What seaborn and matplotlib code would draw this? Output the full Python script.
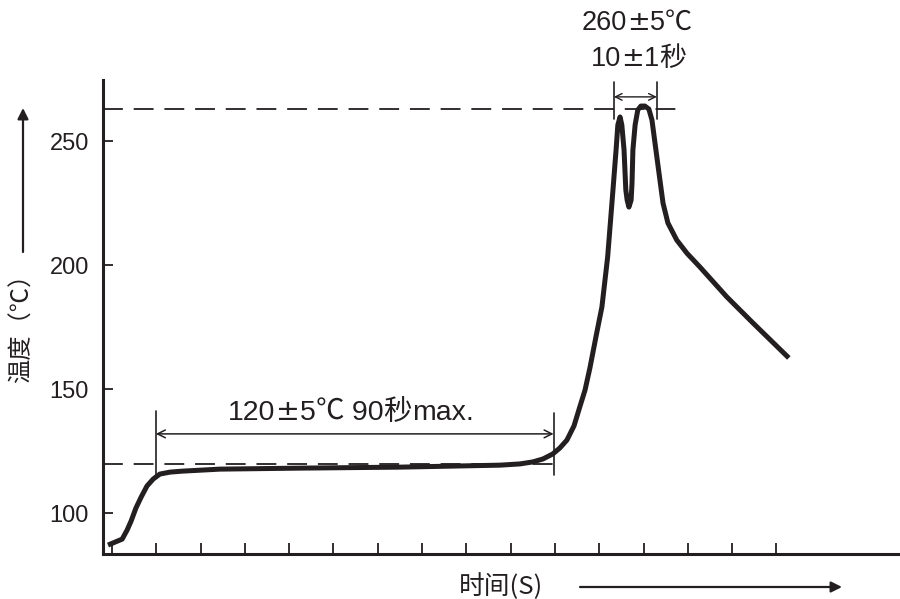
import pandas as pd
import seaborn as sns
import matplotlib.pyplot as plt
from matplotlib.offsetbox import TextArea, HPacker, AnnotationBbox

# reflow profile (time in tick units, temperature in degC)
time_s = [-0.9, 0.7, 2.3, 3.4, 4.3, 5.4, 6.6, 7.9, 9.3, 10.8, 13.1, 16.0, 24.4, 42.4,
          65.0, 76.3, 87.6, 92.1, 95.0, 97.3, 99.5, 101.1, 102.7, 104.3, 105.6, 106.8,
          107.9, 109.3, 110.6, 111.9, 113.1, 113.8, 114.2, 114.7, 115.1, 115.6, 116.0,
          116.3, 116.7, 117.2, 117.4, 117.6, 118.1, 118.7, 119.4, 120.3, 121.2, 121.9,
          122.5, 123.2, 123.7, 124.4, 125.5, 127.5, 129.8, 132.7, 138.8, 144.7, 152.8]
temp_c = [87.2, 88.4, 89.6, 93.2, 96.8, 102.1, 106.6, 111.0, 113.8, 115.8, 116.6, 117.0,
          117.8, 118.2, 118.6, 119.0, 119.4, 119.9, 120.7, 121.9, 123.9, 126.3, 129.5,
          135.2, 142.8, 149.7, 158.6, 171.5, 183.1, 203.3, 230.3, 246.4, 256.5, 259.7,
          256.5, 246.4, 230.3, 226.2, 223.4, 226.2, 233.1, 246.4, 256.5, 262.5, 264.1,
          264.1, 262.9, 258.5, 250.4, 241.0, 234.3, 225.0, 217.0, 210.1, 204.8, 199.3,
          187.2, 176.7, 162.6]

y_ticks = [100, 150, 200, 250]
x_ticks = list(range(0, 151, 10))
preheat_temp = 120
peak_temp = 263
preheat_span = (9.9, 99.7)
peak_span = (113.3, 123.0)

LAT, SYM, CJK = "Liberation Sans", "DejaVu Sans", "Noto Sans CJK SC"
preheat_label = [("120", LAT), ("±", SYM), ("5", LAT), ("℃", CJK), (" 90", LAT),
                 ("秒", CJK), ("max.", LAT)]
peak_label_1 = [("260", LAT), ("±", SYM), ("5", LAT), ("℃", CJK)]
peak_label_2 = [("10", LAT), ("±", SYM), ("1", LAT), ("秒", CJK)]

df = pd.DataFrame({"t": time_s, "T": temp_c})

sns.set_style("ticks")
plt.rcParams["font.family"] = [LAT, CJK, SYM]

ink = "#231f20"


def mixed_label(ax, parts, xy, coords, size=19.5):
    # pieces in different fonts so the wide ± looks like the original
    boxes = [TextArea(s, textprops=dict(family=fam, fontsize=size, color=ink))
             for s, fam in parts]
    pack = HPacker(children=boxes, align="baseline", pad=0, sep=0)
    ab = AnnotationBbox(pack, xy, xycoords=coords, frameon=False, pad=0,
                        box_alignment=(0.5, 0.5), annotation_clip=False)
    ax.add_artist(ab)


fig = plt.figure(figsize=(9, 5.99), dpi=100)
ax = fig.add_axes([103 / 900, 1 - 554 / 599, 797 / 900, 474 / 599])

sns.lineplot(data=df, x="t", y="T", ax=ax, color=ink, linewidth=3.6, sort=False,
             solid_joinstyle="round", solid_capstyle="butt")

ax.set_xlim(-2.03, 177.9)
ax.set_ylim(83.6, 274.6)
ax.set_xticks(x_ticks)
ax.set_xticklabels([])
ax.set_yticks(y_ticks)
ax.tick_params(axis="both", direction="in", length=7, width=1.3, color=ink,
               labelsize=17, labelcolor=ink, pad=10)
ax.tick_params(axis="x", length=8)
for side in ["top", "right"]:
    ax.spines[side].set_visible(False)
for side in ["left", "bottom"]:
    ax.spines[side].set_linewidth(2.2)
    ax.spines[side].set_color(ink)
ax.set_xlabel("")
ax.set_ylabel("")

# dashed reference levels
ax.plot([-2.03, 99.7], [preheat_temp, preheat_temp], color=ink, lw=1.3, dashes=(11, 6))
ax.plot([-2.03, 129.3], [peak_temp, peak_temp], color=ink, lw=1.3, dashes=(11, 6))

# preheat span
for xv, (y0, y1) in zip(preheat_span, [(114.6, 141.2), (115.4, 140.4)]):
    ax.plot([xv, xv], [y0, y1], color=ink, lw=1.2)
ax.annotate("", xy=(preheat_span[0], 132), xytext=(preheat_span[1], 132),
            arrowprops=dict(arrowstyle="<->", color=ink, lw=1.1, shrinkA=0, shrinkB=0,
                            mutation_scale=14))
mixed_label(ax, preheat_label, (351, 599 - 412), "figure pixels", size=20.5)

# peak span
for xv in peak_span:
    ax.plot([xv, xv], [258.8, 273.7], color=ink, lw=1.2, clip_on=False)
ax.annotate("", xy=(peak_span[0], 267.8), xytext=(peak_span[1], 267.8),
            arrowprops=dict(arrowstyle="<->", color=ink, lw=1.0, shrinkA=0, shrinkB=0,
                            mutation_scale=12), annotation_clip=False)
mixed_label(ax, peak_label_1, (637, 599 - 22), "figure pixels")
mixed_label(ax, peak_label_2, (639, 599 - 58), "figure pixels")

# axis titles with arrows
fig.text(22 / 900, 1 - 322 / 599, "温度（℃）", rotation=90, ha="center", va="center",
         fontsize=17.5, color=ink, family=[CJK])
fig.text(501 / 900, 1 - 587 / 599, "时间(S)", ha="center", va="center", fontsize=18.5,
         color=ink, family=[CJK])
arrow = dict(arrowstyle="-|>", color=ink, lw=1.6, shrinkA=0, shrinkB=0, mutation_scale=16)
ax.annotate("", xy=(23, 599 - 108), xytext=(23, 599 - 252), xycoords="figure pixels",
            textcoords="figure pixels", arrowprops=arrow, annotation_clip=False)
ax.annotate("", xy=(842, 599 - 587), xytext=(580, 599 - 587), xycoords="figure pixels",
            textcoords="figure pixels", arrowprops=arrow, annotation_clip=False)

fig.savefig("out.png", dpi=100)
